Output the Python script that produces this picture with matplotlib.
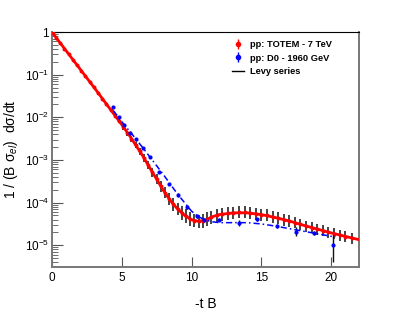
import numpy as np
import matplotlib
matplotlib.use("Agg")
import matplotlib.pyplot as plt
from matplotlib.lines import Line2D
from matplotlib.legend_handler import HandlerTuple

plt.rcParams["font.family"] = ["Liberation Sans", "DejaVu Sans"]
plt.rcParams["mathtext.fontset"] = "custom"
plt.rcParams["mathtext.rm"] = "Liberation Sans"
plt.rcParams["mathtext.it"] = "Liberation Sans:italic"

# ---- TOTEM 7 TeV points (tB, log10 of normalised dsigma/dt, error in decades)
totem_t = [0.05, 0.3, 0.6, 0.9, 1.2, 1.5, 1.8, 2.1, 2.4, 2.7, 3.0, 3.3, 3.6, 3.9,
           4.2, 4.5, 4.8, 5.1, 5.4, 5.7,
           6.0, 6.3, 6.6, 6.9, 7.2, 7.5, 7.8, 8.1, 8.4, 8.7, 9.0, 9.3, 9.6, 9.9,
           10.2, 10.5, 10.8, 11.1, 11.4, 11.8, 12.2, 12.6, 13.0, 13.4, 13.8, 14.2,
           14.6, 15.0, 15.4, 15.8, 16.2, 16.6, 17.0, 17.4, 17.8, 18.2, 18.6, 19.0,
           19.4, 19.8, 20.2, 20.6, 21.0, 21.5]
totem_log = [-0.02, -0.13, -0.26, -0.39, -0.52, -0.65, -0.78, -0.91, -1.04, -1.17,
             -1.30, -1.43, -1.56, -1.69, -1.83, -1.96, -2.09, -2.23, -2.37, -2.51,
             -2.65, -2.80, -2.95, -3.12, -3.29, -3.45, -3.62, -3.77, -3.92, -4.04,
             -4.15, -4.25, -4.32, -4.38, -4.42, -4.44, -4.43, -4.39, -4.34, -4.30,
             -4.27, -4.25, -4.24, -4.23, -4.23, -4.24, -4.26, -4.28, -4.30, -4.33,
             -4.36, -4.40, -4.43, -4.47, -4.51, -4.55, -4.59, -4.63, -4.66, -4.70,
             -4.73, -4.77, -4.80, -4.84]
totem_err = [0, 0, 0, 0, 0, 0, 0, 0, 0, 0, 0, 0, 0, 0, 0,
             0.05, 0.05, 0.06, 0.06, 0.07,
             0.08, 0.08, 0.09, 0.10, 0.11, 0.12, 0.12, 0.13, 0.14, 0.15,
             0.15, 0.16, 0.16, 0.16, 0.16, 0.16, 0.16, 0.16, 0.15, 0.15,
             0.15, 0.15, 0.14, 0.14, 0.14, 0.14, 0.14, 0.14, 0.14, 0.14,
             0.14, 0.14, 0.14, 0.13, 0.13, 0.13, 0.13, 0.13, 0.13, 0.13,
             0.13, 0.13, 0.13, 0.13]

# ---- D0 1960 GeV points
d0_t = [4.4, 4.8, 5.2, 5.6, 6.0, 6.5, 7.0, 7.7, 8.4, 9.0, 9.7, 10.4, 10.9,
        12.0, 13.4, 14.7, 16.1, 17.5, 18.8, 20.1]
d0_log = [-1.76, -2.00, -2.18, -2.36, -2.52, -2.72, -2.93, -3.28, -3.56, -3.82,
          -4.10, -4.32, -4.40, -4.40, -4.48, -4.39, -4.54, -4.68, -4.71, -4.99]
d0_err_lo = [0.03, 0.03, 0.03, 0.03, 0.03, 0.03, 0.03, 0.03, 0.03, 0.04,
             0.04, 0.04, 0.04, 0.04, 0.07, 0.04, 0.05, 0.10, 0.05, 0.40]
d0_err_hi = [0.03, 0.03, 0.03, 0.03, 0.03, 0.03, 0.03, 0.03, 0.03, 0.04,
             0.04, 0.04, 0.04, 0.04, 0.07, 0.04, 0.05, 0.10, 0.05, 0.22]

# ---- Levy series curves
levy_t = [0, 1, 2, 3, 4, 5, 5.5, 6, 6.5, 7, 7.5, 8, 8.5, 9, 9.5, 10, 10.5, 11,
          11.5, 12, 13, 14, 15, 16, 17, 18, 19, 20, 21, 22]
levy_log = [0.0, -0.43, -0.86, -1.29, -1.73, -2.17, -2.40, -2.65, -2.90, -3.18,
            -3.45, -3.72, -3.96, -4.15, -4.30, -4.40, -4.44, -4.41, -4.33, -4.28,
            -4.24, -4.24, -4.28, -4.35, -4.43, -4.53, -4.62, -4.71, -4.79, -4.87]
levy_d0_t = [4.4, 5, 6, 7, 8, 9, 9.5, 10, 10.5, 11, 11.5, 12, 13, 14, 15, 16, 17,
             18, 19, 20, 20.3]
levy_d0_log = [-1.84, -2.10, -2.50, -2.92, -3.35, -3.80, -4.00, -4.20, -4.33, -4.41,
               -4.45, -4.47, -4.47, -4.47, -4.50, -4.55, -4.61, -4.67, -4.73,
               -4.79, -4.80]


def log_errors(logv, lo, hi):
    v = 10.0 ** np.asarray(logv)
    return v, [v - v * 10.0 ** (-np.asarray(lo)), v * 10.0 ** np.asarray(hi) - v]


fig = plt.figure(figsize=(3.99, 3.14), dpi=100)
ax = fig.add_axes([0.130, 0.151, 0.770, 0.747])

tv, terr = log_errors(totem_log, totem_err, totem_err)
dv, derr = log_errors(d0_log, d0_err_lo, d0_err_hi)

ax.errorbar(totem_t, tv, yerr=terr, fmt="o", ms=1.8, color="red", ecolor="#111111",
            elinewidth=1.1, capsize=0, zorder=3)
ax.plot(levy_t, 10.0 ** np.array(levy_log), color="red", lw=2.0, zorder=4)
ax.errorbar(d0_t, dv, yerr=derr, fmt="o", ms=2.0, color="blue", ecolor="#111111",
            elinewidth=1.0, capsize=0, zorder=5)
ax.plot(levy_d0_t, 10.0 ** np.array(levy_d0_log), color="blue", lw=1.1,
        ls=(0, (4, 2, 1, 2)), zorder=5)

ax.set_yscale("log")
ax.set_xlim(0, 22)
ax.set_ylim(10 ** -5.5, 1)

ax.set_xticks([0, 5, 10, 15, 20])
ax.set_yticks([1, 1e-1, 1e-2, 1e-3, 1e-4, 1e-5])
ax.set_yticklabels(["1", "10$^{-1}$", "10$^{-2}$", "10$^{-3}$", "10$^{-4}$", "10$^{-5}$"])
ax.tick_params(axis="both", which="both", direction="in", labelsize=8.5, colors="#555555",
               labelcolor="black")
ax.tick_params(axis="x", which="major", length=7, width=0.8, pad=4)
ax.tick_params(axis="y", which="major", length=8, width=0.8, pad=2)
ax.tick_params(axis="y", which="minor", length=4, width=0.6)
ax.tick_params(axis="x", which="minor", bottom=False)

for side in ["left", "bottom", "right"]:
    ax.spines[side].set_color("#777777")
    ax.spines[side].set_linewidth(1.4)
ax.spines["top"].set_color("black")
ax.spines["top"].set_linewidth(0.8)

ax.set_xlabel("-t B", fontsize=10, labelpad=9)
ax.set_ylabel("1 / (B σ$_{el}$)  dσ/dt", fontsize=10, labelpad=3)

h_totem = (Line2D([], [], marker="|", ms=7, mew=1.0, color="red", ls="none"),
           Line2D([], [], marker="o", ms=3, color="red", ls="none"))
h_d0 = (Line2D([], [], marker="|", ms=7, mew=1.0, color="blue", ls="none"),
        Line2D([], [], marker="o", ms=3, color="blue", ls="none"))
h_levy = Line2D([], [], color="black", lw=1.0)
ax.legend([h_totem, h_d0, h_levy],
          ["pp: TOTEM - 7 TeV", "pp: D0 - 1960 GeV", "Levy series"],
          handler_map={tuple: HandlerTuple(ndivide=1)},
          loc="upper left", bbox_to_anchor=(0.56, 1.0), frameon=False,
          prop={"size": 6.7, "weight": "bold"}, handlelength=1.3,
          handletextpad=0.6, labelspacing=0.45)

fig.savefig("out.png", dpi=100)
